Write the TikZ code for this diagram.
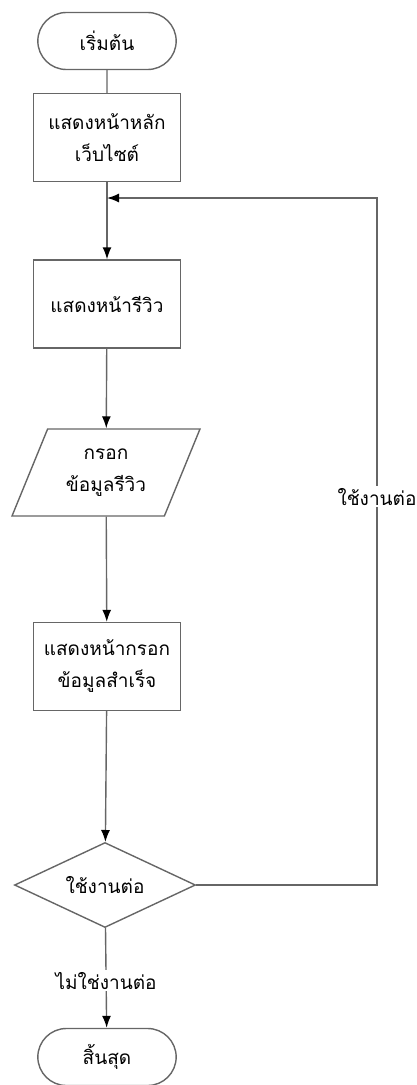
\documentclass[tikz,border=0pt]{standalone}
\usepackage{fontspec}
\newfontfamily\thaifont[Script=Thai]{Loma}
\usetikzlibrary{arrows.meta,shapes.geometric,shapes.misc}

\begin{document}
\begin{tikzpicture}[x=1pt,y=-1pt,>={Latex[length=12pt,width=9pt,color=black]},
    every node/.style={align=center,font=\thaifont\fontsize{19}{32}\selectfont},
    line/.style={draw=black!60,line width=1.4pt},
    term/.style={line,rounded rectangle,minimum width=145pt,minimum height=57pt},
    procbox/.style={line,rectangle,minimum width=147pt,minimum height=88pt},
    iobox/.style={line,trapezium,trapezium left angle=64,trapezium right angle=116,
      trapezium stretches=true,minimum width=188pt,minimum height=87pt},
    decision/.style={line,diamond,aspect=2.1,minimum width=181pt,minimum height=85pt,inner sep=0pt}]
    \useasboundingbox (0,0) rectangle (417,1085);
    \node[term] (start) at (107,41) {เริ่มต้น};
    \node[procbox] (home) at (107,137.5) {แสดงหน้าหลัก\\เว็บไซต์};
    \node[procbox] (review) at (107,304) {แสดงหน้ารีวิว};
    \node[iobox] (fill) at (106,472.5) {กรอก\\ข้อมูลรีวิว};
    \node[procbox] (done) at (107,666.5) {แสดงหน้ากรอก\\ข้อมูลสำเร็จ};
    \node[decision] (again) at (105,885) {ใช้งานต่อ};
    \node[term] (stop) at (107,1057) {สิ้นสุด};
    \coordinate (merge) at (107,198);
    \coordinate (corner) at (377,885);
    \draw[line] (start) -- (home);
    \draw[line,->] (home) -- (review);
    \draw[line,->] (review) -- (fill);
    \draw[line,->] (fill) -- (done);
    \draw[line,->] (done) -- (again);
    \draw[line,->] (again) -- node[pos=0.53,fill=white,inner sep=2pt] (nolbl) {ไม่ใช่งานต่อ} (stop);
    \draw[line,->] (again.east) -- (corner)
      -- node[pos=0.565,fill=white,inner sep=2pt] (yeslbl) {ใช้งานต่อ} (corner |- merge) -- (merge);
  \end{tikzpicture}
\end{document}
